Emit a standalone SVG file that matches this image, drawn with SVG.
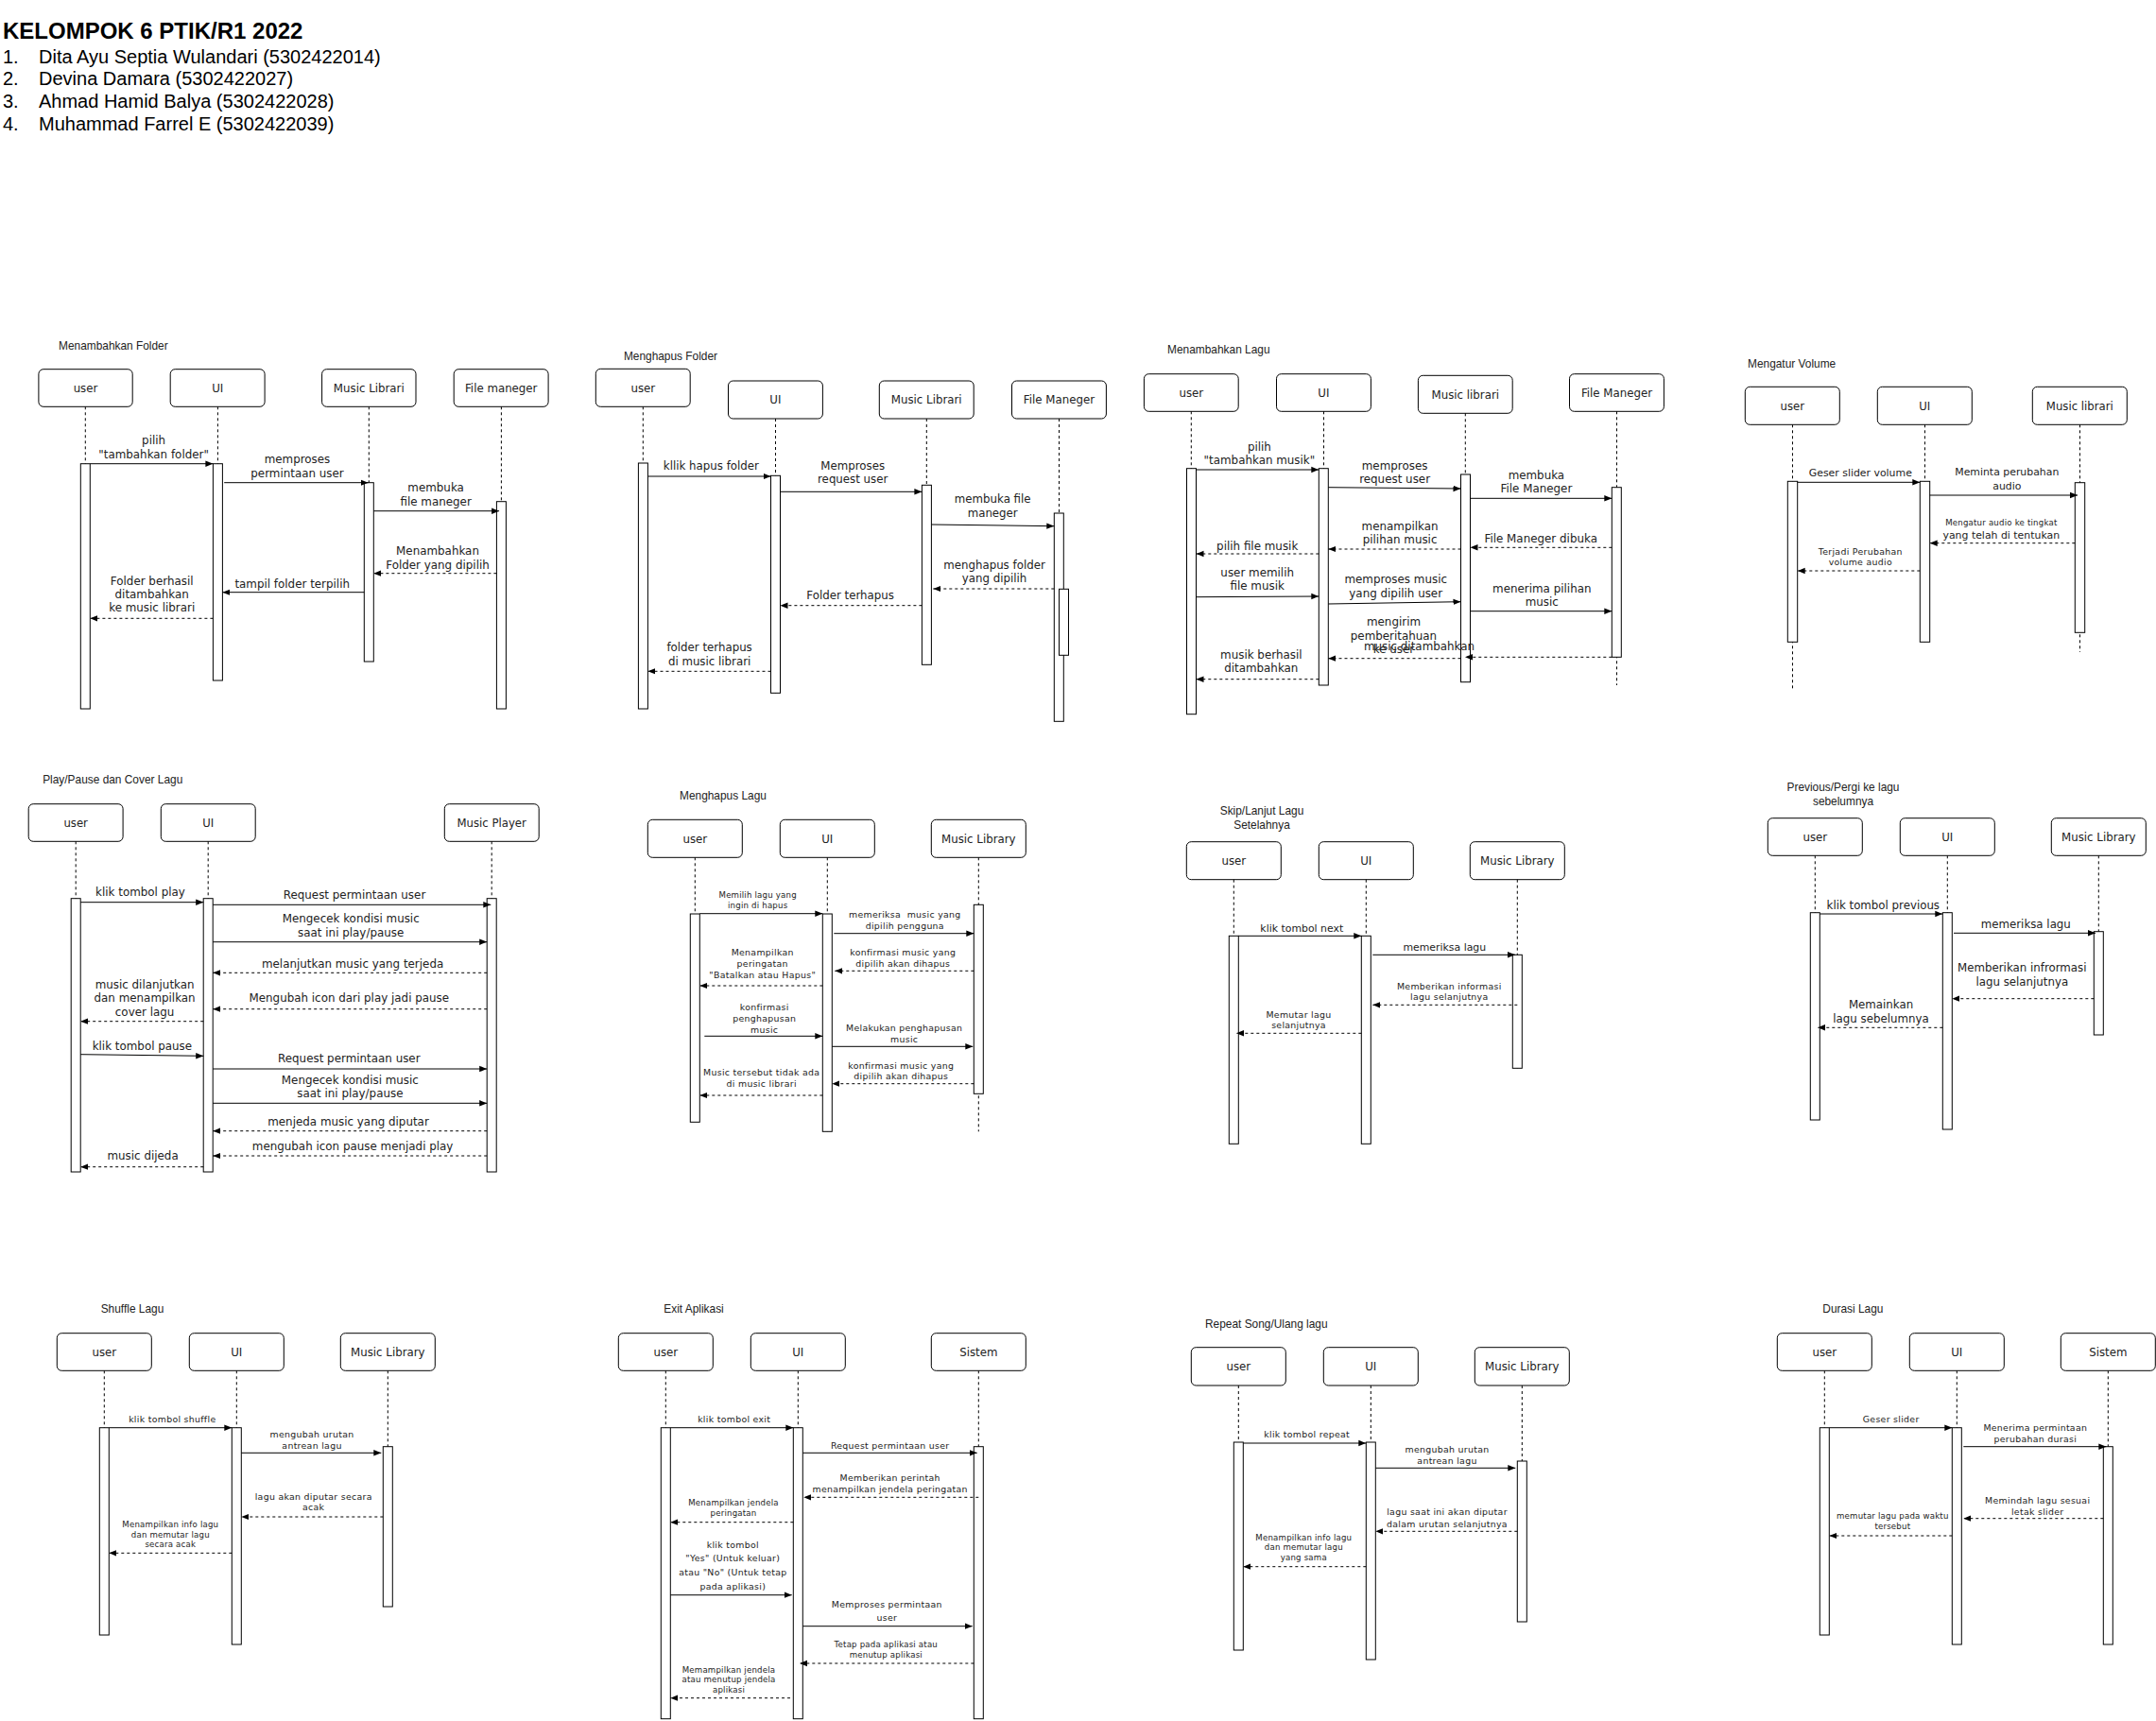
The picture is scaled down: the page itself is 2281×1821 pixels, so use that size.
<svg xmlns="http://www.w3.org/2000/svg" width="2281" height="1821" viewBox="0 0 2281 1821">
<defs>
<marker id="ah" viewBox="0 0 10 10" refX="10" refY="5" markerWidth="8" markerHeight="8" markerUnits="userSpaceOnUse" orient="auto"><path d="M0,1 L10,5 L0,9 z" fill="#000"/></marker>
<style>
.box{fill:#fff;stroke:#000;stroke-width:1}
.life{stroke:#000;stroke-width:1;stroke-dasharray:3 3;fill:none}
.act{fill:#fff;stroke:#000;stroke-width:1}
.sync{stroke:#000;stroke-width:1;fill:none;marker-end:url(#ah)}
.ret{stroke:#000;stroke-width:1;stroke-dasharray:3 3;fill:none;marker-end:url(#ah)}
text{font-family:"DejaVu Sans",Verdana,sans-serif;fill:#222;text-anchor:middle}
.ttl{font-family:"Liberation Sans",Arial,sans-serif;text-anchor:start}
.ttlc{font-family:"Liberation Sans",Arial,sans-serif;text-anchor:middle}
.hd{font-family:"Liberation Sans",Arial,sans-serif;text-anchor:start;fill:#000}
.s{font-size:9.4px;letter-spacing:0.3px}
.xs{font-size:8.6px;letter-spacing:0.2px}
</style>
</defs>
<rect width="2281" height="1821" fill="#fff"/>

<g id="header">
<text class="hd" x="3" y="41" font-size="24" font-weight="bold">KELOMPOK 6 PTIK/R1 2022</text>
<text class="hd" x="3" y="66.5" font-size="20">1.</text><text class="hd" x="41" y="66.5" font-size="20">Dita Ayu Septia Wulandari (5302422014)</text>
<text class="hd" x="3" y="90" font-size="20">2.</text><text class="hd" x="41" y="90" font-size="20">Devina Damara (5302422027)</text>
<text class="hd" x="3" y="113.5" font-size="20">3.</text><text class="hd" x="41" y="113.5" font-size="20">Ahmad Hamid Balya (5302422028)</text>
<text class="hd" x="3" y="137.5" font-size="20">4.</text><text class="hd" x="41" y="137.5" font-size="20">Muhammad Farrel E (5302422039)</text>
</g>

<!-- Diagram 1: Menambahkan Folder -->
<g id="diagram-1" font-size="11.9">
<text class="ttl" x="62" y="369.5">Menambahkan Folder</text>
<g id="d1-user"><rect class="box" x="40.9" y="390.7" width="99.3" height="39.6" rx="5"/><text x="90.5" y="414.5" font-size="11.8">user</text><path class="life" d="M90.3,430.3V750"/><rect class="act" x="85.3" y="490.7" width="10" height="259.3"/></g>
<g id="d1-ui"><rect class="box" x="180.2" y="390.7" width="99.9" height="39.6" rx="5"/><text x="230.2" y="414.5" font-size="11.8">UI</text><path class="life" d="M230.4,430.3V720"/><rect class="act" x="225.4" y="490.7" width="10" height="229.3"/></g>
<g id="d1-ml"><rect class="box" x="340.6" y="390.7" width="99.4" height="39.6" rx="5"/><text x="390.3" y="414.5" font-size="11.8">Music Librari</text><path class="life" d="M390.3,430.3V700"/><rect class="act" x="385.3" y="510.7" width="10" height="189.3"/></g>
<g id="d1-fm"><rect class="box" x="480.2" y="390.7" width="99.9" height="39.6" rx="5"/><text x="530.2" y="414.5" font-size="11.8">File maneger</text><path class="life" d="M530.4,430.3V750"/><rect class="act" x="525.4" y="530.7" width="10" height="219.3"/></g>
<g id="d1-connectors">
<line class="sync" x1="95.3" y1="490.7" x2="225.4" y2="490.7"/>
<text><tspan x="162.6" y="469.5">pilih</tspan><tspan x="162.6" y="484.5">"tambahkan folder"</tspan></text>
<line class="sync" x1="237.2" y1="510.7" x2="389.5" y2="510.7"/>
<text><tspan x="314.5" y="489.5">memproses</tspan><tspan x="314.5" y="504.5">permintaan user</tspan></text>
<line class="sync" x1="395.3" y1="540.7" x2="528.1" y2="540.7"/>
<text><tspan x="461.1" y="519.5">membuka</tspan><tspan x="461.1" y="534.5">file maneger</tspan></text>
<line class="ret" x1="525.4" y1="606.7" x2="395.3" y2="606.7"/>
<text><tspan x="463" y="586.5">Menambahkan</tspan><tspan x="463" y="601.5">Folder yang dipilih</tspan></text>
<line class="sync" x1="385.3" y1="626.7" x2="235.4" y2="626.7"/>
<text x="309.2" y="621.5">tampil folder terpilih</text>
<line class="ret" x1="225.4" y1="654.3" x2="95.3" y2="654.3"/>
<text><tspan x="160.7" y="618.8">Folder berhasil</tspan><tspan x="160.7" y="632.5">ditambahkan</tspan><tspan x="160.7" y="647.1">ke music librari</tspan></text>
</g>
</g>

<!-- Diagram 2: Menghapus Folder -->
<g id="diagram-2" font-size="11.8">
<text class="ttl" x="659.9" y="381.3" font-size="11.9">Menghapus Folder</text>
<g id="d2-user"><rect class="box" x="630.3" y="390.3" width="99.9" height="40" rx="5"/><text x="680.3" y="414.5">user</text><path class="life" d="M680.3,430.3V750"/><rect class="act" x="675.4" y="490" width="10" height="260"/></g>
<g id="d2-ui"><rect class="box" x="770.5" y="403" width="99.9" height="40" rx="5"/><text x="820.4" y="427.2">UI</text><path class="life" d="M820.5,443V733.3"/><rect class="act" x="815.5" y="503.3" width="10" height="230"/></g>
<g id="d2-ml"><rect class="box" x="930.3" y="403" width="99.9" height="40" rx="5"/><text x="980.2" y="427.2">Music Librari</text><path class="life" d="M980.3,443V703.3"/><rect class="act" x="975.4" y="513.3" width="10" height="190"/></g>
<g id="d2-fm"><rect class="box" x="1070.5" y="403" width="99.9" height="40" rx="5"/><text x="1120.4" y="427.2">File Maneger</text><path class="life" d="M1120.5,443V763.3"/><rect class="act" x="1115.3" y="543" width="10" height="220.3"/><rect class="act" x="1120.5" y="623.3" width="10" height="70"/></g>
<g id="d2-connectors">
<line class="sync" x1="685.4" y1="504" x2="815.5" y2="504"/>
<text x="752.4" y="497.3">kllik hapus folder</text>
<line class="sync" x1="825.5" y1="520.3" x2="975.4" y2="520.3"/>
<text><tspan x="902.2" y="496.7">Memproses</tspan><tspan x="902.2" y="511.3">request user</tspan></text>
<line class="sync" x1="985.4" y1="555" x2="1115.3" y2="556.7"/>
<text><tspan x="1050.2" y="532.3">membuka file</tspan><tspan x="1050.2" y="547.3">maneger</tspan></text>
<line class="ret" x1="1115.3" y1="623" x2="987.3" y2="623"/>
<text><tspan x="1052" y="601.7">menghapus folder</tspan><tspan x="1052" y="616.3">yang dipilih</tspan></text>
<line class="ret" x1="975.4" y1="640.7" x2="825.5" y2="640.7"/>
<text x="899.6" y="634">Folder terhapus</text>
<line class="ret" x1="815.5" y1="710.3" x2="685.4" y2="710.3"/>
<text><tspan x="750.6" y="689">folder terhapus</tspan><tspan x="750.6" y="704">di music librari</tspan></text>
</g>
</g>

<!-- Diagram 3: Menambahkan Lagu -->
<g id="diagram-3" font-size="11.9">
<text class="ttl" x="1235.1" y="374.3">Menambahkan Lagu</text>
<g id="d3-user"><rect class="box" x="1210.4" y="395.7" width="99.8" height="39.6" rx="5"/><text x="1260.3" y="419.5" font-size="11.8">user</text><path class="life" d="M1260.3,435.3V755.7"/><rect class="act" x="1255.5" y="495.7" width="10" height="260"/></g>
<g id="d3-ui"><rect class="box" x="1350.5" y="395.7" width="99.9" height="39.6" rx="5"/><text x="1400.4" y="419.5" font-size="11.8">UI</text><path class="life" d="M1400.5,435.3V725"/><rect class="act" x="1395.3" y="495.7" width="10" height="229.3"/></g>
<g id="d3-ml"><rect class="box" x="1500.4" y="397.3" width="99.8" height="40" rx="5"/><text x="1550.3" y="421.5" font-size="11.8">Music librari</text><path class="life" d="M1550.3,437.3V721.7"/><rect class="act" x="1545.5" y="502" width="10" height="219.7"/></g>
<g id="d3-fm"><rect class="box" x="1660.5" y="395.7" width="99.9" height="39.6" rx="5"/><text x="1710.5" y="419.5" font-size="11.8">File Maneger</text><path class="life" d="M1710.5,435.3V725"/><rect class="act" x="1705.3" y="515.7" width="10" height="179.6"/></g>
<g id="d3-connectors">
<line class="sync" x1="1265.5" y1="497" x2="1395.3" y2="497"/>
<text><tspan x="1332.4" y="476.7">pilih</tspan><tspan x="1332.4" y="490.7">"tambahkan musik"</tspan></text>
<line class="sync" x1="1405.3" y1="515.7" x2="1545.5" y2="517"/>
<text><tspan x="1475.6" y="496.7">memproses</tspan><tspan x="1475.6" y="511.3">request user</tspan></text>
<line class="sync" x1="1555.5" y1="527.3" x2="1705.3" y2="527.3"/>
<text><tspan x="1625.4" y="506.7">membuka</tspan><tspan x="1625.4" y="521.3">File Maneger</tspan></text>
<line class="ret" x1="1705.3" y1="579.3" x2="1555.5" y2="579.3"/>
<text x="1630.2" y="574">File Maneger dibuka</text>
<line class="ret" x1="1545.5" y1="581" x2="1405.3" y2="581"/>
<text><tspan x="1481.1" y="560.7">menampilkan</tspan><tspan x="1481.1" y="575.3">pilihan music</tspan></text>
<line class="ret" x1="1395.3" y1="586" x2="1265.5" y2="586"/>
<text x="1330.2" y="581.7">pilih file musik</text>
<line class="sync" x1="1265.5" y1="631.7" x2="1395.3" y2="631"/>
<text><tspan x="1330.2" y="609.7">user memilih</tspan><tspan x="1330.2" y="624">file musik</tspan></text>
<line class="sync" x1="1405.3" y1="639" x2="1545.5" y2="636.7"/>
<text><tspan x="1476.7" y="617.3">memproses music</tspan><tspan x="1476.7" y="632">yang dipilih user</tspan></text>
<line class="sync" x1="1555.5" y1="646.7" x2="1705.3" y2="646.7"/>
<text><tspan x="1631.3" y="626.7">menerima pilihan</tspan><tspan x="1631.3" y="641.3">music</tspan></text>
<line class="ret" x1="1705.3" y1="695.3" x2="1550" y2="695.3"/>
<text x="1501.5" y="688.3">music ditambahkan</text>
<line class="ret" x1="1545.5" y1="696.7" x2="1405.3" y2="696.7"/>
<text><tspan x="1474.5" y="662.3">mengirim</tspan><tspan x="1474.5" y="676.7">pemberitahuan</tspan><tspan x="1474.5" y="691.3">ke user</tspan></text>
<line class="ret" x1="1395.3" y1="718.7" x2="1265.5" y2="718.7"/>
<text><tspan x="1334.3" y="696.7">musik berhasil</tspan><tspan x="1334.3" y="711.3">ditambahkan</tspan></text>
</g>
</g>

<!-- Diagram 4: Mengatur Volume -->
<g id="diagram-4" font-size="10.9">
<text class="ttl" x="1849" y="389" font-size="11.9">Mengatur Volume</text>
<g id="d4-user"><rect class="box" x="1846.3" y="409.3" width="100" height="40" rx="5"/><text x="1896.3" y="433.5" font-size="11.7">user</text><path class="life" d="M1896.5,449.3V728.3"/><rect class="act" x="1891.3" y="509.3" width="10.4" height="170"/></g>
<g id="d4-ui"><rect class="box" x="1986.3" y="409.3" width="100" height="40" rx="5"/><text x="2036.3" y="433.5" font-size="11.7">UI</text><path class="life" d="M2036.5,449.3V679.3"/><rect class="act" x="2031.3" y="509.3" width="10.4" height="170"/></g>
<g id="d4-ml"><rect class="box" x="2150.3" y="409.3" width="100" height="40" rx="5"/><text x="2200.3" y="433.5" font-size="11.7">Music librari</text><path class="life" d="M2200.5,449.3V690"/><rect class="act" x="2195.3" y="510.7" width="10.4" height="158.6"/></g>
<g id="d4-connectors">
<line class="sync" x1="1901.7" y1="510.3" x2="2031.3" y2="510.3"/>
<text x="1968.3" y="504.3">Geser slider volume</text>
<line class="sync" x1="2041.7" y1="524" x2="2198" y2="524"/>
<text><tspan x="2123.3" y="503.3">Meminta perubahan</tspan><tspan x="2123.3" y="518">audio</tspan></text>
<line class="ret" x1="2195.3" y1="574.7" x2="2041.7" y2="574.7"/>
<text><tspan class="xs" x="2117.3" y="555.5">Mengatur audio ke tingkat</tspan><tspan x="2117.3" y="569.8">yang telah di tentukan</tspan></text>
<line class="ret" x1="2031.3" y1="604" x2="1901.7" y2="604"/>
<text class="s"><tspan x="1968.3" y="586.7">Terjadi Perubahan</tspan><tspan x="1968.3" y="598.3">volume audio</tspan></text>
</g>
</g>

<!-- Diagram 5: Play/Pause dan Cover Lagu -->
<g id="diagram-5" font-size="11.9">
<text class="ttl" x="45.2" y="829.3">Play/Pause dan Cover Lagu</text>
<g id="d5-user"><rect class="box" x="30.2" y="850.7" width="99.9" height="39.6" rx="5"/><text x="80.2" y="874.5" font-size="11.7">user</text><path class="life" d="M80.2,890.3V1240"/><rect class="act" x="75.2" y="950.7" width="10" height="289.3"/></g>
<g id="d5-ui"><rect class="box" x="170.3" y="850.7" width="99.9" height="39.6" rx="5"/><text x="220.2" y="874.5" font-size="11.7">UI</text><path class="life" d="M220.2,890.3V1240"/><rect class="act" x="215.2" y="950.7" width="10" height="289.3"/></g>
<g id="d5-mp"><rect class="box" x="470.3" y="850.7" width="99.9" height="39.6" rx="5"/><text x="520.2" y="874.5" font-size="11.7">Music Player</text><path class="life" d="M520.2,890.3V1240"/><rect class="act" x="515.2" y="950.7" width="10" height="289.3"/></g>
<g id="d5-connectors">
<line class="sync" x1="85.2" y1="954.7" x2="215.2" y2="954.7"/>
<text x="148.5" y="948.3">klik tombol play</text>
<line class="sync" x1="225.2" y1="957.3" x2="519.3" y2="957.3"/>
<text x="375" y="951.3">Request permintaan user</text>
<line class="sync" x1="225.2" y1="996.7" x2="515.2" y2="996.7"/>
<text><tspan x="371.2" y="976.3">Mengecek kondisi music</tspan><tspan x="371.2" y="991.3">saat ini play/pause</tspan></text>
<line class="ret" x1="515.2" y1="1029.3" x2="225.2" y2="1029.3"/>
<text x="373.1" y="1024.3">melanjutkan music yang terjeda</text>
<line class="ret" x1="515.2" y1="1067.7" x2="225.2" y2="1067.7"/>
<text x="369.3" y="1060.3">Mengubah icon dari play jadi pause</text>
<line class="ret" x1="215.2" y1="1080.7" x2="85.2" y2="1080.7"/>
<text><tspan x="153.1" y="1045.7">music dilanjutkan</tspan><tspan x="153.1" y="1059.7">dan menampilkan</tspan><tspan x="153.1" y="1074.7">cover lagu</tspan></text>
<line class="sync" x1="85.2" y1="1115.7" x2="215.2" y2="1117.3"/>
<text x="150.4" y="1111.3">klik tombol pause</text>
<line class="sync" x1="225.2" y1="1131" x2="515.2" y2="1131"/>
<text x="369.3" y="1124.3">Request permintaan user</text>
<line class="sync" x1="225.2" y1="1167.3" x2="515.2" y2="1167.3"/>
<text><tspan x="370.4" y="1146.7">Mengecek kondisi music</tspan><tspan x="370.4" y="1161.3">saat ini play/pause</tspan></text>
<line class="ret" x1="515.2" y1="1196.7" x2="225.2" y2="1196.7"/>
<text x="368.5" y="1191.3">menjeda music yang diputar</text>
<line class="ret" x1="515.2" y1="1223" x2="225.2" y2="1223"/>
<text x="373.1" y="1217.3">mengubah icon pause menjadi play</text>
<line class="ret" x1="215.2" y1="1234.7" x2="85.2" y2="1234.7"/>
<text x="151.1" y="1227.3">music dijeda</text>
</g>
</g>

<!-- Diagram 6: Menghapus Lagu -->
<g id="diagram-6" font-size="11.8">
<text class="ttl" x="719" y="846" font-size="11.9">Menghapus Lagu</text>
<g id="d6-user"><rect class="box" x="685.3" y="867.3" width="100" height="40" rx="5"/><text x="735.3" y="891.5">user</text><path class="life" d="M735.3,907.3V1187.3"/><rect class="act" x="730.3" y="967" width="10" height="220.3"/></g>
<g id="d6-ui"><rect class="box" x="825.3" y="867.3" width="100" height="40" rx="5"/><text x="875.3" y="891.5">UI</text><path class="life" d="M875.3,907.3V1197.3"/><rect class="act" x="870.3" y="967" width="10" height="230.3"/></g>
<g id="d6-ml"><rect class="box" x="985.3" y="867.3" width="100" height="40" rx="5"/><text x="1035.3" y="891.5">Music Library</text><path class="life" d="M1035.3,907.3V1197.3"/><rect class="act" x="1030.3" y="957.3" width="10" height="200"/></g>
<g id="d6-connectors">
<line class="sync" x1="740.3" y1="966.7" x2="870.3" y2="966.7"/>
<text class="xs"><tspan x="801.7" y="950.3">Memilih lagu yang</tspan><tspan x="801.7" y="961">ingin di hapus</tspan></text>
<line class="sync" x1="882.3" y1="987.7" x2="1030.3" y2="987.7"/>
<text class="s" xml:space="preserve"><tspan x="957.3" y="970.6">memeriksa  music yang</tspan><tspan x="957.3" y="982.6">dipilih pengguna</tspan></text>
<line class="ret" x1="1030.3" y1="1027.3" x2="883.3" y2="1027.3"/>
<text class="s"><tspan x="955.3" y="1010.6">konfirmasi music yang</tspan><tspan x="955.3" y="1022.6">dipilih akan dihapus</tspan></text>
<line class="ret" x1="870.3" y1="1043" x2="740.3" y2="1043"/>
<text class="s"><tspan x="806.7" y="1010.6">Menampilkan</tspan><tspan x="806.7" y="1022.6">peringatan</tspan><tspan x="806.7" y="1034.6">"Batalkan atau Hapus"</tspan></text>
<line class="sync" x1="745.3" y1="1096.3" x2="870.3" y2="1096.3"/>
<text class="s"><tspan x="808.7" y="1068.6">konfirmasi</tspan><tspan x="808.7" y="1080.6">penghapusan</tspan><tspan x="808.7" y="1092.6">music</tspan></text>
<line class="sync" x1="880.3" y1="1107.3" x2="1029.3" y2="1107.3"/>
<text class="s"><tspan x="956.7" y="1090.6">Melakukan penghapusan</tspan><tspan x="956.7" y="1102.6">music</tspan></text>
<line class="ret" x1="1030.3" y1="1146.7" x2="880.3" y2="1146.7"/>
<text class="s"><tspan x="953.3" y="1130.6">konfirmasi music yang</tspan><tspan x="953.3" y="1142.2">dipilih akan dihapus</tspan></text>
<line class="ret" x1="870.3" y1="1159" x2="740.3" y2="1159"/>
<text class="s"><tspan x="805.7" y="1138.2">Music tersebut tidak ada</tspan><tspan x="805.7" y="1150.2">di music librari</tspan></text>
</g>
</g>

<!-- Diagram 7: Skip -->
<g id="diagram-7" font-size="10.9">
<text class="ttlc" font-size="11.9"><tspan x="1335" y="862">Skip/Lanjut Lagu</tspan><tspan x="1335" y="876.5">Setelahnya</tspan></text>
<g id="d7-user"><rect class="box" x="1255.3" y="890.7" width="100" height="40" rx="5"/><text x="1305.3" y="914.9" font-size="11.8">user</text><path class="life" d="M1305.3,930.7V1210.3"/><rect class="act" x="1300.3" y="990.3" width="10" height="220"/></g>
<g id="d7-ui"><rect class="box" x="1395.3" y="890.7" width="100" height="40" rx="5"/><text x="1445.3" y="914.9" font-size="11.8">UI</text><path class="life" d="M1445.3,930.7V1210.3"/><rect class="act" x="1440.3" y="990.3" width="10" height="220"/></g>
<g id="d7-ml"><rect class="box" x="1555.3" y="890.7" width="100" height="40" rx="5"/><text x="1605.3" y="914.9" font-size="11.8">Music Library</text><path class="life" d="M1605.3,930.7V1130.3"/><rect class="act" x="1600.3" y="1010.3" width="10" height="120"/></g>
<g id="d7-connectors">
<line class="sync" x1="1310.3" y1="990.3" x2="1440.3" y2="990.3"/>
<text x="1377.3" y="985.7">klik tombol next</text>
<line class="sync" x1="1452.3" y1="1010.3" x2="1603" y2="1010.3"/>
<text x="1528.3" y="1005.7">memeriksa lagu</text>
<line class="ret" x1="1605.3" y1="1063.3" x2="1452.3" y2="1063.3"/>
<text class="s"><tspan x="1533.3" y="1046.6">Memberikan informasi</tspan><tspan x="1533.3" y="1058.2">lagu selanjutnya</tspan></text>
<line class="ret" x1="1440.3" y1="1093.3" x2="1308" y2="1093.3"/>
<text class="s"><tspan x="1374" y="1076.6">Memutar lagu</tspan><tspan x="1374" y="1087.9">selanjutnya</tspan></text>
</g>
</g>

<!-- Diagram 8: Previous -->
<g id="diagram-8" font-size="11.8">
<text class="ttlc" font-size="11.9"><tspan x="1950" y="837">Previous/Pergi ke lagu</tspan><tspan x="1950" y="851.7">sebelumnya</tspan></text>
<g id="d8-user"><rect class="box" x="1870.3" y="865.7" width="100" height="39.6" rx="5"/><text x="1920.3" y="889.7">user</text><path class="life" d="M1920.3,905.3V1185"/><rect class="act" x="1915.3" y="965.7" width="10" height="219.3"/></g>
<g id="d8-ui"><rect class="box" x="2010.3" y="865.7" width="100" height="39.6" rx="5"/><text x="2060.3" y="889.7">UI</text><path class="life" d="M2060.3,905.3V1195"/><rect class="act" x="2055.3" y="965.7" width="10" height="229.3"/></g>
<g id="d8-ml"><rect class="box" x="2170.3" y="865.7" width="100" height="39.6" rx="5"/><text x="2220.3" y="889.7">Music Library</text><path class="life" d="M2220.3,905.3V1095"/><rect class="act" x="2215.3" y="985.7" width="10" height="109.3"/></g>
<g id="d8-connectors">
<line class="sync" x1="1925.3" y1="967" x2="2055.3" y2="967"/>
<text x="1992.3" y="961.8">klik tombol previous</text>
<line class="sync" x1="2067" y1="987.3" x2="2217" y2="987.3"/>
<text x="2143.3" y="982.1">memeriksa lagu</text>
<line class="ret" x1="2215.3" y1="1056.7" x2="2065.3" y2="1056.7"/>
<text><tspan x="2139.3" y="1028.2">Memberikan infrormasi</tspan><tspan x="2139.3" y="1042.5">lagu selanjutnya</tspan></text>
<line class="ret" x1="2055.3" y1="1087.3" x2="1923" y2="1087.3"/>
<text><tspan x="1990" y="1066.9">Memainkan</tspan><tspan x="1990" y="1081.9">lagu sebelumnya</tspan></text>
</g>
</g>

<!-- Diagram 9: Shuffle Lagu -->
<g id="diagram-9" font-size="11.8">
<text class="ttl" x="106.7" y="1389" font-size="11.9">Shuffle Lagu</text>
<g id="d9-user"><rect class="box" x="60.3" y="1410.7" width="100" height="39.6" rx="5"/><text x="110.3" y="1434.7">user</text><path class="life" d="M110.3,1450.3V1730"/><rect class="act" x="105.3" y="1510.7" width="10" height="219.3"/></g>
<g id="d9-ui"><rect class="box" x="200.3" y="1410.7" width="100" height="39.6" rx="5"/><text x="250.3" y="1434.7">UI</text><path class="life" d="M250.3,1450.3V1740"/><rect class="act" x="245.3" y="1510.7" width="10" height="229.3"/></g>
<g id="d9-ml"><rect class="box" x="360.3" y="1410.7" width="100" height="39.6" rx="5"/><text x="410.3" y="1434.7">Music Library</text><path class="life" d="M410.3,1450.3V1700"/><rect class="act" x="405.3" y="1530.7" width="10" height="169.3"/></g>
<g id="d9-connectors">
<line class="sync" x1="115.3" y1="1510.7" x2="245.3" y2="1510.7"/>
<text class="s" x="182.3" y="1504.6">klik tombol shuffle</text>
<line class="sync" x1="255.3" y1="1537.3" x2="403.3" y2="1537.3"/>
<text class="s"><tspan x="330" y="1520.6">mengubah urutan</tspan><tspan x="330" y="1532.6">antrean lagu</tspan></text>
<line class="ret" x1="405.3" y1="1605" x2="255.3" y2="1605"/>
<text class="s"><tspan x="331.7" y="1586.6">lagu akan diputar secara</tspan><tspan x="331.7" y="1598.2">acak</tspan></text>
<line class="ret" x1="245.3" y1="1643.3" x2="115.3" y2="1643.3"/>
<text class="xs"><tspan x="180.3" y="1615.9">Menampilkan info lagu</tspan><tspan x="180.3" y="1626.6">dan memutar lagu</tspan><tspan x="180.3" y="1637.3">secara acak</tspan></text>
</g>
</g>

<!-- Diagram 10: Exit Aplikasi -->
<g id="diagram-10" font-size="11.8">
<text class="ttl" x="702.3" y="1389" font-size="11.9">Exit Aplikasi</text>
<g id="d10-user"><rect class="box" x="654.3" y="1410.7" width="100" height="39.6" rx="5"/><text x="704.3" y="1434.7">user</text><path class="life" d="M704.3,1450.3V1818"/><rect class="act" x="699.3" y="1510.7" width="10" height="308"/></g>
<g id="d10-ui"><rect class="box" x="794.3" y="1410.7" width="100" height="39.6" rx="5"/><text x="844.3" y="1434.7">UI</text><path class="life" d="M844.3,1450.3V1818"/><rect class="act" x="839.3" y="1510.7" width="10" height="308"/></g>
<g id="d10-sis"><rect class="box" x="985.3" y="1410.7" width="100" height="39.6" rx="5"/><text x="1035.3" y="1434.7">Sistem</text><path class="life" d="M1035.3,1450.3V1818"/><rect class="act" x="1030.3" y="1530.7" width="10" height="288"/></g>
<g id="d10-connectors">
<line class="sync" x1="709.3" y1="1510.7" x2="839.3" y2="1510.7"/>
<text class="s" x="776.7" y="1504.6">klik tombol exit</text>
<line class="sync" x1="849.3" y1="1537.3" x2="1033.7" y2="1537.3"/>
<text class="s" x="941.7" y="1532.9">Request permintaan user</text>
<line class="ret" x1="1035.3" y1="1584.3" x2="850.3" y2="1584.3"/>
<text class="s"><tspan x="941.7" y="1566.6">Memberikan perintah</tspan><tspan x="941.7" y="1578.9">menampilkan jendela peringatan</tspan></text>
<line class="ret" x1="839.3" y1="1610.7" x2="709.3" y2="1610.7"/>
<text class="xs"><tspan x="776" y="1593.3">Menampilkan jendela</tspan><tspan x="776" y="1604.3">peringatan</tspan></text>
<line class="sync" x1="709.3" y1="1687.7" x2="837.7" y2="1687.7"/>
<text class="s"><tspan x="775.3" y="1637.6">klik tombol</tspan><tspan x="775.3" y="1652.2">"Yes" (Untuk keluar)</tspan><tspan x="775.3" y="1666.9">atau "No" (Untuk tetap</tspan><tspan x="775.3" y="1681.6">pada aplikasi)</tspan></text>
<line class="sync" x1="849.3" y1="1720.7" x2="1028.7" y2="1720.7"/>
<text class="s"><tspan x="938.3" y="1700.6">Memproses permintaan</tspan><tspan x="938.3" y="1715.2">user</tspan></text>
<line class="ret" x1="1030.3" y1="1760" x2="846" y2="1760"/>
<text class="xs"><tspan x="937.3" y="1742.9">Tetap pada aplikasi atau</tspan><tspan x="937.3" y="1754.3">menutup aplikasi</tspan></text>
<line class="ret" x1="836" y1="1796.7" x2="709.3" y2="1796.7"/>
<text class="xs"><tspan x="771" y="1769.9">Memampilkan jendela</tspan><tspan x="771" y="1780.3">atau menutup jendela</tspan><tspan x="771" y="1790.9">aplikasi</tspan></text>
</g>
</g>

<!-- Diagram 11: Repeat -->
<g id="diagram-11" font-size="11.8">
<text class="ttl" x="1275" y="1405" font-size="11.9">Repeat Song/Ulang lagu</text>
<g id="d11-user"><rect class="box" x="1260.3" y="1425.7" width="100" height="40.3" rx="5"/><text x="1310.3" y="1450">user</text><path class="life" d="M1310.3,1466V1746"/><rect class="act" x="1305.3" y="1526" width="10" height="220"/></g>
<g id="d11-ui"><rect class="box" x="1400.3" y="1425.7" width="100" height="40.3" rx="5"/><text x="1450.3" y="1450">UI</text><path class="life" d="M1450.3,1466V1756"/><rect class="act" x="1445.3" y="1526" width="10" height="230"/></g>
<g id="d11-ml"><rect class="box" x="1560.3" y="1425.7" width="100" height="40.3" rx="5"/><text x="1610.3" y="1450">Music Library</text><path class="life" d="M1610.3,1466V1716"/><rect class="act" x="1605.3" y="1546" width="10" height="170"/></g>
<g id="d11-connectors">
<line class="sync" x1="1315.3" y1="1527" x2="1445.3" y2="1527"/>
<text class="s" x="1382.7" y="1521.2">klik tombol repeat</text>
<line class="sync" x1="1455.3" y1="1553.3" x2="1603.3" y2="1553.3"/>
<text class="s"><tspan x="1531" y="1536.6">mengubah urutan</tspan><tspan x="1531" y="1548.6">antrean lagu</tspan></text>
<line class="ret" x1="1605.3" y1="1620.3" x2="1455.3" y2="1620.3"/>
<text class="s"><tspan x="1531" y="1603.2">lagu saat ini akan diputar</tspan><tspan x="1531" y="1615.6">dalam urutan selanjutnya</tspan></text>
<line class="ret" x1="1445.3" y1="1657.7" x2="1315.3" y2="1657.7"/>
<text class="xs"><tspan x="1379.3" y="1629.9">Menampilkan info lagu</tspan><tspan x="1379.3" y="1640.3">dan memutar lagu</tspan><tspan x="1379.3" y="1650.9">yang sama</tspan></text>
</g>
</g>

<!-- Diagram 12: Durasi Lagu -->
<g id="diagram-12" font-size="11.8">
<text class="ttl" x="1928.3" y="1389" font-size="11.9">Durasi Lagu</text>
<g id="d12-user"><rect class="box" x="1880.3" y="1410.7" width="100" height="39.6" rx="5"/><text x="1930.3" y="1434.7">user</text><path class="life" d="M1930.3,1450.3V1730"/><rect class="act" x="1925.3" y="1510.7" width="10" height="219.3"/></g>
<g id="d12-ui"><rect class="box" x="2020.3" y="1410.7" width="100" height="39.6" rx="5"/><text x="2070.3" y="1434.7">UI</text><path class="life" d="M2070.3,1450.3V1740"/><rect class="act" x="2065.3" y="1510.7" width="10" height="229.3"/></g>
<g id="d12-sis"><rect class="box" x="2180.3" y="1410.7" width="100" height="39.6" rx="5"/><text x="2230.3" y="1434.7">Sistem</text><path class="life" d="M2230.3,1450.3V1740"/><rect class="act" x="2225.3" y="1530.7" width="10" height="209.3"/></g>
<g id="d12-connectors">
<line class="sync" x1="1935.3" y1="1510.7" x2="2065.3" y2="1510.7"/>
<text class="s" x="2000.7" y="1504.6">Geser slider</text>
<line class="sync" x1="2077.3" y1="1530.7" x2="2228.3" y2="1530.7"/>
<text class="s"><tspan x="2153.3" y="1513.9">Menerima permintaan</tspan><tspan x="2153.3" y="1525.6">perubahan durasi</tspan></text>
<line class="ret" x1="2225.3" y1="1606.7" x2="2077.3" y2="1606.7"/>
<text class="s"><tspan x="2155.7" y="1591.2">Memindah lagu sesuai</tspan><tspan x="2155.7" y="1602.6">letak slider</tspan></text>
<line class="ret" x1="2065.3" y1="1625" x2="1935.3" y2="1625"/>
<text class="xs"><tspan x="2002.3" y="1606.9">memutar lagu pada waktu</tspan><tspan x="2002.3" y="1617.6">tersebut</tspan></text>
</g>
</g>
</svg>
